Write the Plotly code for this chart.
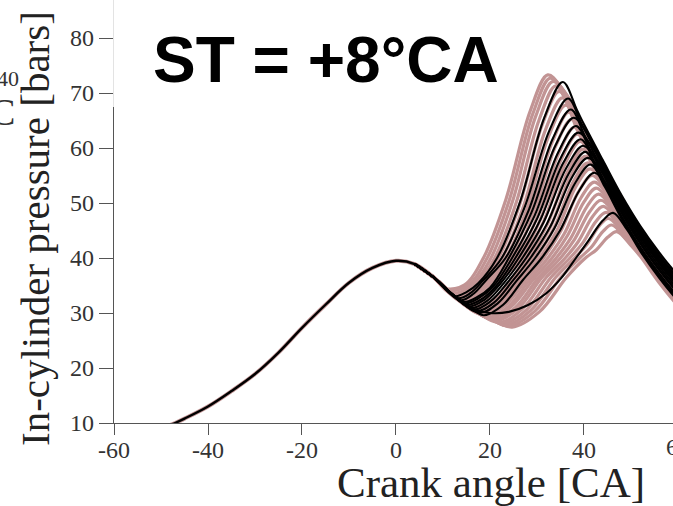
import plotly.graph_objects as go

# Motored compression stroke shared by every cycle (crank angle, bar)
COMP_CA = [-50, -47, -45, -40, -35, -30, -25, -20, -15, -10, -5, 0, 4, 8, 10]
COMP_P = [9.0, 10.0, 10.8, 13.0, 15.8, 18.9, 22.8, 27.3, 31.5, 35.5, 38.2, 39.5, 38.9, 36.5, 34.9]

# Every fired cycle leaves the motored trace after these points
SHARED_START = [[4, 38.9], [8, 36.5]]

# Individual cycles, fired part only: [crank angle, pressure] key points
PINK_CYCLES = [
    [[10.6, 34.45], [14.6, 35.1], [18.6, 40], [23.4, 50.7], [28.5, 66.6], [32.3, 73.3], [35.3, 70.8], [40, 63.8], [44, 57.3], [48, 50.9], [52, 45.3], [56, 40.5], [60, 36.3], [63, 33.5]],
    [[11.1, 34.1], [15.4, 35.1], [19.4, 40], [24.1, 50.5], [29.1, 66.2], [32.8, 72.7], [35.8, 70.2], [40, 62.8], [44, 56.3], [48, 49.9], [52, 44.3], [56, 39.5], [60, 35.3], [63, 32.5]],
    [[11.6, 33.65], [16.2, 35.1], [20.2, 40], [24.8, 50.3], [29.7, 65.7], [33.4, 72.1], [36.4, 69.6], [40, 63.3], [44, 56.8], [48, 50.4], [52, 44.8], [56, 40.0], [60, 35.8], [63, 33.0]],
    [[12.2, 33.3], [17.0, 35.2], [21.0, 40], [25.55, 50.0], [30.4, 65.0], [34.0, 71.3], [37.0, 67.1], [40, 61.8], [44, 55.3], [48, 48.9], [52, 43.3], [56, 38.5], [60, 34.3], [63, 31.5]],
    [[12.7, 32.96], [15.2, 33.7], [17.8, 35.3], [21.8, 40], [26.3, 49.7], [31.1, 64.2], [34.7, 70.3], [37.7, 66.3], [40, 62.3], [44, 55.8], [48, 49.4], [52, 43.8], [56, 39.0], [60, 34.8], [63, 32.0]],
    [[13.2, 32.66], [15.9, 33.5], [18.6, 35.4], [22.6, 40], [27.1, 49.3], [31.8, 63.3], [35.4, 69.1], [38.4, 63.6], [40, 60.8], [44, 54.3], [48, 47.9], [52, 42.3], [56, 37.5], [60, 33.3], [63, 30.5]],
    [[13.7, 32.3], [16.6, 33.3], [19.4, 35.6], [23.4, 40], [27.85, 48.9], [32.5, 62.2], [36.1, 67.8], [39.1, 64.7], [44, 56.6], [48, 50.2], [52, 44.6], [56, 39.8], [60, 35.6], [63, 32.8]],
    [[14.2, 31.96], [17.2, 33.1], [20.2, 35.8], [24.2, 40], [28.6, 48.5], [33.3, 61.2], [36.8, 66.5], [39.8, 61.7], [44, 54.8], [48, 48.4], [52, 42.8], [56, 38.0], [60, 33.8], [63, 31.0]],
    [[12, 33.4], [14.8, 31.64], [17.9, 32.9], [21.0, 35.9], [25.0, 40], [29.3, 48.1], [33.9, 60.2], [37.4, 65.2], [40.4, 61.4], [44, 55.6], [48, 49.2], [52, 43.6], [56, 38.8], [60, 34.6], [63, 31.8]],
    [[12, 33.4], [15.3, 31.3], [18.5, 32.7], [21.8, 36.1], [25.8, 40], [30.1, 47.6], [34.6, 59.0], [38.0, 63.8], [41.0, 58.7], [44, 53.8], [48, 47.4], [52, 41.8], [56, 37.0], [60, 32.8], [63, 30.0]],
    [[12, 33.4], [15.8, 31.0], [19.2, 32.6], [22.6, 36.2], [26.6, 40], [30.8, 47.2], [35.2, 58.0], [38.6, 62.5], [41.6, 59.9], [44, 56.0], [48, 49.6], [52, 44.0], [56, 39.2], [60, 35.0], [63, 32.2]],
    [[12, 33.4], [16.3, 30.74], [19.9, 31.95], [23.4, 34.75], [27.4, 40], [31.5, 46.8], [35.9, 57.0], [39.2, 61.2], [42.2, 57.5], [44, 54.6], [48, 48.2], [52, 42.6], [56, 37.8], [60, 33.6], [63, 30.8]],
    [[12, 33.4], [16.8, 30.48], [20.5, 31.84], [24.2, 35.0], [28.2, 40], [32.3, 46.3], [36.6, 55.8], [39.8, 59.8], [42.8, 57.1], [48, 48.8], [52, 43.2], [56, 38.4], [60, 34.2], [63, 31.4]],
    [[12, 33.4], [17.4, 30.2], [21.2, 31.7], [25.0, 35.2], [29.0, 40], [33.0, 45.9], [37.1, 54.8], [40.3, 58.5], [43.3, 54.4], [48, 46.9], [52, 41.3], [56, 36.5], [60, 32.3], [63, 29.5]],
    [[12, 33.4], [17.9, 29.96], [21.8, 31.6], [25.8, 35.4], [29.8, 40], [33.65, 45.5], [37.7, 53.8], [40.8, 57.3], [43.8, 54.8], [48, 49.9], [52, 44.3], [56, 39.5], [60, 35.3], [63, 32.5]],
    [[12, 33.4], [18.4, 29.7], [22.5, 31.5], [26.6, 35.6], [30.6, 40], [34.35, 45.2], [38.3, 53.0], [41.3, 56.2], [44.3, 53.5], [48, 47.6], [52, 42.0], [56, 37.2], [60, 33.0], [63, 30.2]],
    [[12, 33.4], [16, 30.9], [18.9, 29.5], [23.2, 31.4], [27.4, 35.7], [31.4, 40], [35.0, 44.8], [38.8, 52.0], [41.7, 55.0], [44.7, 52.5], [48, 48.6], [52, 43.0], [56, 38.2], [60, 34.0], [63, 31.2]],
    [[12, 33.4], [16, 30.9], [19.5, 29.2], [23.9, 31.2], [28.3, 35.9], [32.3, 40], [35.8, 44.4], [39.4, 51.0], [42.2, 53.8], [45.2, 51.3], [48, 47.2], [52, 41.6], [56, 36.8], [60, 32.6], [63, 29.8]],
    [[12, 33.4], [16, 30.9], [20.1, 29.06], [24.6, 31.2], [29.2, 36.1], [33.2, 40], [36.5, 44.1], [40.0, 50.2], [42.6, 52.7], [45.6, 50.2], [48, 47.8], [52, 43.8], [56, 39.0], [60, 34.8], [63, 32.0]],
    [[12, 33.4], [16, 30.9], [20.7, 28.83], [25.4, 31.0], [30.1, 36.2], [34.1, 40], [37.25, 43.7], [40.6, 49.3], [43.1, 51.6], [46.1, 49.1], [48, 47.2], [52, 42.3], [56, 37.5], [60, 33.3], [63, 30.5]],
    [[12, 33.4], [16, 30.9], [21.3, 28.6], [26.1, 30.9], [31.0, 36.4], [35.0, 40], [38.0, 43.4], [41.2, 48.4], [43.6, 50.5], [46.6, 48.0], [52, 41.0], [56, 36.2], [60, 32.0], [63, 29.2]],
    [[12, 33.4], [16, 30.9], [21.9, 28.3], [26.95, 30.8], [32.0, 36.5], [36.0, 40], [38.8, 43.0], [41.8, 47.5], [44.1, 49.4], [47.1, 46.9], [52, 42.3], [56, 38.0], [60, 33.8], [63, 31.0]],
    [[12, 33.4], [16, 30.9], [20, 29.1], [22.6, 28.07], [27.8, 30.6], [33.0, 36.5], [37.0, 40], [39.7, 42.7], [42.5, 46.6], [44.7, 48.3], [47.7, 45.8], [52, 41.7], [56, 37.0], [60, 32.8], [63, 30.0]],
    [[12, 33.4], [16, 30.9], [20, 29.1], [23.2, 27.8], [28.6, 30.4], [34.0, 36.5], [38.0, 40], [40.5, 42.3], [43.2, 45.8], [45.2, 47.2], [48.2, 44.7], [52, 40.8], [56, 36.0], [60, 31.8], [63, 29.0]],
    [[12, 33.4], [16, 30.9], [20, 29.1], [23.9, 27.63], [29.5, 30.3], [35.1, 36.5], [39.1, 40], [41.5, 41.9], [44.0, 44.8], [45.9, 46.0], [48.9, 43.5], [52, 40.5], [56, 36.5], [60, 32.3], [63, 29.5]],
    [[12, 33.4], [16, 30.9], [20, 29.1], [24.7, 27.45], [30.5, 30.2], [36.3, 36.5], [40.3, 40], [42.65, 41.5], [45.1, 43.8], [47.0, 44.8], [50, 42.3], [52, 40.3], [56, 35.5], [60, 31.3], [63, 28.5]],
]

BLACK_CYCLES = [
    [[12.5, 33.08], [15.0, 33.8], [17.5, 35.4], [21.5, 40], [26.4, 50.2], [31.6, 65.6], [35.5, 72.0], [38.5, 66.9], [40, 64.3], [44, 57.8], [48, 51.4], [52, 45.8], [56, 41.0], [60, 36.8], [63, 34.0]],
    [[13.1, 32.7], [15.8, 33.6], [18.5, 35.9], [22.5, 40], [27.4, 49.3], [32.65, 63.2], [36.6, 69.0], [39.6, 64.2], [44, 57.0], [48, 50.6], [52, 45.0], [56, 40.2], [60, 36.0], [63, 33.2]],
    [[13.7, 32.33], [16.5, 33.5], [19.3, 36.1], [23.3, 40], [28.2, 48.6], [33.3, 61.6], [37.2, 67.0], [40.2, 62.2], [44, 56.0], [48, 49.6], [52, 44.0], [56, 39.2], [60, 35.0], [63, 32.2]],
    [[14.1, 32.04], [17.05, 32.8], [20.0, 34.6], [24.0, 40], [28.8, 48.2], [33.9, 60.4], [37.8, 65.5], [40.8, 62.5], [44, 57.3], [48, 50.9], [52, 45.3], [56, 40.5], [60, 36.3], [63, 33.5]],
    [[12, 33.4], [14.6, 31.76], [17.6, 32.7], [20.7, 34.85], [24.7, 40], [29.5, 47.7], [34.5, 59.2], [38.3, 64.0], [41.3, 59.7], [44, 55.3], [48, 48.9], [52, 43.3], [56, 38.5], [60, 34.3], [63, 31.5]],
    [[12, 33.4], [15.0, 31.49], [18.2, 32.5], [21.4, 35.0], [25.4, 40], [30.1, 47.3], [35.05, 58.2], [38.8, 62.8], [41.8, 60.1], [44, 56.6], [48, 50.2], [52, 44.6], [56, 39.8], [60, 35.6], [63, 32.8]],
    [[12, 33.4], [15.5, 31.2], [18.8, 32.4], [22.1, 35.2], [26.1, 40], [30.7, 46.9], [35.6, 57.3], [39.3, 61.6], [42.3, 57.3], [44, 54.6], [48, 48.2], [52, 42.6], [56, 37.8], [60, 33.6], [63, 30.8]],
    [[12, 33.4], [16.0, 30.9], [19.45, 32.25], [22.9, 35.4], [26.9, 40], [31.4, 46.5], [36.2, 56.3], [39.8, 60.4], [42.8, 57.7], [48, 49.4], [52, 43.8], [56, 39.0], [60, 34.8], [63, 32.0]],
    [[12, 33.4], [16.5, 30.65], [20.1, 32.1], [23.7, 35.5], [27.7, 40], [32.1, 46.2], [36.8, 55.4], [40.3, 59.3], [43.3, 55.1], [48, 47.6], [52, 42.0], [56, 37.2], [60, 33.0], [63, 30.2]],
    [[12, 33.4], [17.1, 30.35], [20.85, 31.9], [24.6, 35.6], [28.6, 40], [32.9, 45.8], [37.4, 54.6], [40.8, 58.2], [43.8, 55.7], [48, 49.9], [52, 44.3], [56, 39.5], [60, 35.3], [63, 32.5]],
    [[12, 33.4], [17.75, 30.03], [21.7, 31.8], [25.6, 35.8], [29.6, 40], [33.7, 45.4], [38.1, 53.6], [41.4, 57.0], [44.4, 53.0], [48, 47.2], [52, 41.6], [56, 36.8], [60, 32.6], [63, 29.8]],
    [[12, 33.4], [16, 30.9], [18.7, 29.6], [22.8, 31.5], [27.0, 36.0], [31.0, 40], [34.9, 45.0], [39.1, 52.4], [42.2, 55.5], [45.2, 52.9], [48, 48.4], [52, 42.8], [56, 38.0], [60, 33.8], [63, 31.0]],
    [[12, 33.4], [16, 30.9], [20, 30.0], [24, 30.2], [28, 31.4], [32, 33.6], [35, 36.2], [38.3, 40], [41, 43.2], [44, 46.8], [46.2, 48.2], [49.2, 45.1], [52, 41.2], [56, 36.4], [60, 32.2], [63, 29.4]],
]

X_TICKS = [-60, -40, -20, 0, 20, 40]
X_TICK_TEXT = ["-60", "-40", "-20", "0", "20", "40"]
Y_TICKS = [10, 20, 30, 40, 50, 60, 70, 80]

PINK = "rgb(194,148,148)"
AXIS_GREY = "#555555"
SERIF = "Liberation Serif"

fig = go.Figure()


def add_cycle(points, color, width):
    pts = SHARED_START + points
    fig.add_trace(go.Scatter(
        x=[p[0] for p in pts], y=[p[1] for p in pts],
        mode="lines", line=dict(color=color, width=width, shape="spline", smoothing=1.0),
        hoverinfo="skip", showlegend=False,
    ))


# pink cycles underneath, black cycles on top
fig.add_trace(go.Scatter(x=COMP_CA, y=COMP_P, mode="lines",
                         line=dict(color=PINK, width=4, shape="spline"),
                         hoverinfo="skip", showlegend=False))
for cyc in PINK_CYCLES:
    add_cycle(cyc, PINK, 3.2)
for cyc in BLACK_CYCLES:
    add_cycle(cyc, "black", 2.1)
fig.add_trace(go.Scatter(x=COMP_CA, y=COMP_P, mode="lines",
                         line=dict(color="black", width=2.4, shape="spline"),
                         hoverinfo="skip", showlegend=False))

axis_common = dict(
    showgrid=False, zeroline=False, showline=True, linecolor=AXIS_GREY, linewidth=1.3,
    ticks="outside", tickcolor=AXIS_GREY, tickwidth=1.3,
    tickfont=dict(family=SERIF, size=24, color="#333333"),
)

fig.update_layout(
    width=673, height=506,
    margin=dict(l=114, r=0, t=0, b=83),
    paper_bgcolor="white", plot_bgcolor="white",
    xaxis=dict(range=[-60, 58.94], tickvals=X_TICKS, ticktext=X_TICK_TEXT, ticklen=11,
               ticklabelstandoff=-6, **axis_common),
    yaxis=dict(range=[10, 86.91], tickvals=Y_TICKS, ticklen=14, **axis_common),
    shapes=[
        # white panel behind the heading hides the top of the pressure axis
        dict(type="rect", xref="paper", yref="paper", x0=-0.0015, x1=0.717, y0=0.747, y1=1.0,
             fillcolor="white", line=dict(width=0), layer="above"),
    ],
    annotations=[
        dict(text="ST = +8°CA", xref="paper", yref="paper", x=0.379, y=0.858,
             xanchor="center", yanchor="middle", showarrow=False,
             font=dict(family="Liberation Sans", size=64, color="black", weight="bold")),
        dict(text="In-cylinder pressure [bars]", xref="paper", yref="paper", x=-0.1413, y=0.4586,
             xanchor="center", yanchor="middle", textangle=-90, showarrow=False,
             font=dict(family=SERIF, size=41, color="#222222")),
        dict(text="Crank angle [CA]", xref="paper", yref="paper", x=0.6744, y=-0.1395,
             xanchor="center", yanchor="middle", showarrow=False,
             font=dict(family=SERIF, size=43, color="#222222")),
        dict(text="60", xref="paper", yref="paper", x=1.0089, y=0, yshift=-9,
             xanchor="center", yanchor="top", showarrow=False,
             font=dict(family=SERIF, size=24, color="#333333")),
        dict(text="40", xref="paper", yref="paper", x=-0.19, y=0.815,
             xanchor="center", yanchor="middle", showarrow=False,
             font=dict(family=SERIF, size=22, color="#333333")),
        dict(text="C", xref="paper", yref="paper", x=-0.2, y=0.735,
             xanchor="center", yanchor="middle", showarrow=False,
             font=dict(family=SERIF, size=38, color="#333333")),
    ],
)

fig.write_html("out.html")
